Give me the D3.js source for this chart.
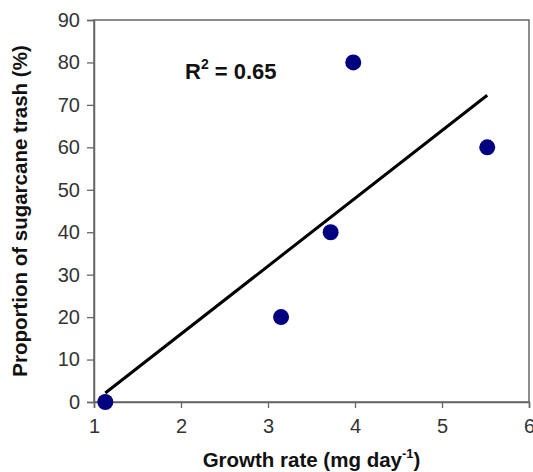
<!DOCTYPE html>
<html>
<head>
<meta charset="utf-8">
<script src="https://cdn.jsdelivr.net/npm/d3@7"></script>
<style>
  body { margin: 0; background: #fff; }
  svg { font-family: Arial, 'Liberation Sans', sans-serif; }
</style>
</head>
<body>
<div id="chart"></div>
<script>
// data
const growthRate = [1.13, 3.15, 3.72, 3.98, 5.52]
const trashPct = [0, 20, 40, 80, 60]
const xTicks = [1, 2, 3, 4, 5, 6]
const yTicks = [0, 10, 20, 30, 40, 50, 60, 70, 80, 90]

const margin = { top: 20, left: 94, right: 4, bottom: 70 }
const width = 533 - margin.left - margin.right
const height = 472 - margin.top - margin.bottom

const svg = d3
  .select('#chart')
  .append('svg')
  .attr('width', 533)
  .attr('height', 472)

const g = svg
  .append('g')
  .attr('transform', 'translate(' + margin.left + ',' + margin.top + ')')

const x = d3.scaleLinear().domain([1, 6]).range([0, width])
const y = d3.scaleLinear().domain([0, 90]).range([height, 0])

const points = growthRate.map((d, i) => ({ x: d, y: trashPct[i] }))

// least squares fit
const mx = d3.mean(growthRate)
const my = d3.mean(trashPct)
const sxy = d3.sum(points, d => (d.x - mx) * (d.y - my))
const sxx = d3.sum(points, d => (d.x - mx) * (d.x - mx))
const slope = sxy / sxx
const intercept = my - slope * mx
const xExt = d3.extent(growthRate)

// frame
g.append('rect')
  .attr('width', width)
  .attr('height', height)
  .attr('fill', 'none')
  .attr('stroke', '#666')
  .attr('stroke-width', 1.5)

const xAxis = g
  .append('g')
  .attr('transform', 'translate(0,' + height + ')')
  .call(d3.axisBottom(x).tickValues(xTicks).tickSize(6).tickPadding(11).tickFormat(d3.format('d')))

const yAxis = g
  .append('g')
  .call(d3.axisLeft(y).tickValues(yTicks).tickSize(7).tickPadding(7).tickFormat(d3.format('d')))

;[xAxis, yAxis].forEach(a => {
  a.attr('font-size', null).attr('font-family', null)
  a.select('.domain').attr('stroke', '#666').attr('stroke-width', 1.5)
  a.selectAll('.tick line').attr('stroke', '#666').attr('stroke-width', 1.3)
  a.selectAll('.tick text')
    .style('fill', '#333')
    .style('font-size', '20px')
    .style('font-family', 'Arial, "Liberation Sans", sans-serif')
})

// regression line
g.append('line')
  .attr('x1', x(xExt[0]))
  .attr('y1', y(slope * xExt[0] + intercept))
  .attr('x2', x(xExt[1]))
  .attr('y2', y(slope * xExt[1] + intercept))
  .attr('stroke', '#000')
  .attr('stroke-width', 3)

g.selectAll('.dot')
  .data(points)
  .enter()
  .append('circle')
  .attr('class', 'dot')
  .attr('cx', d => x(d.x))
  .attr('cy', d => y(d.y))
  .attr('r', 8)
  .attr('fill', '#000080')

// R2 label
const r2 = g
  .append('text')
  .attr('x', 91)
  .attr('y', 59)
  .attr('font-size', 22)
  .attr('font-weight', 'bold')
  .attr('fill', '#111')
r2.append('tspan').text('R')
r2.append('tspan').attr('font-size', 14).attr('dy', -10).text('2')
r2.append('tspan').attr('dy', 10).text(' = 0.65')

// axis titles
const xt = g
  .append('text')
  .attr('x', width / 2)
  .attr('y', height + 65)
  .attr('text-anchor', 'middle')
  .attr('font-size', 20.5)
  .attr('font-weight', 'bold')
  .attr('fill', '#111')
xt.append('tspan').text('Growth rate (mg day')
xt.append('tspan').attr('font-size', 13).attr('dy', -9).text('-1')
xt.append('tspan').attr('dy', 9).text(')')

g.append('text')
  .attr('transform', 'translate(' + (-67) + ',' + height / 2 + ') rotate(-90)')
  .attr('text-anchor', 'middle')
  .attr('font-size', 20.5)
  .attr('font-weight', 'bold')
  .attr('fill', '#111')
  .text('Proportion of sugarcane trash (%)')
</script>
</body>
</html>
